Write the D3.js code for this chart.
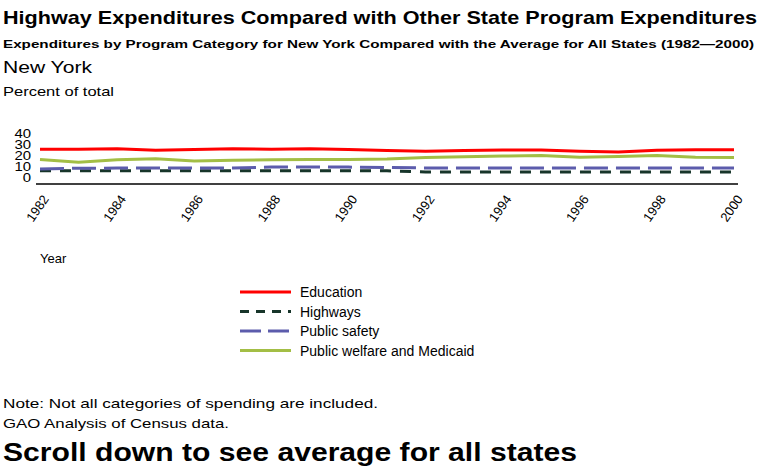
<!DOCTYPE html>
<html>
<head>
<meta charset="utf-8">
<script src="https://cdn.jsdelivr.net/npm/d3@7"></script>
<style>
  body { margin: 0; background: #fff; }
  text { font-family: "Liberation Sans", Arial, sans-serif; fill: #000; }
</style>
</head>
<body>
<div id="chart"></div>
<script>
const years = d3.range(1982, 2001);
const education = [25.3, 25.3, 25.6, 24.4, 25.0, 25.6, 25.2, 25.6, 25.0, 24.2, 23.5, 24.1, 24.6, 24.5, 23.5, 22.8, 24.3, 24.7, 24.7];
const highways = [5.7, 5.7, 5.7, 5.7, 5.7, 5.7, 5.7, 5.7, 5.7, 5.6, 4.6, 4.6, 4.6, 4.6, 4.6, 4.6, 4.6, 4.6, 4.6];
const publicSafety = [7.2, 8.0, 8.1, 8.1, 8.1, 8.2, 9.0, 9.0, 9.0, 8.6, 8.2, 8.2, 8.2, 8.2, 8.2, 8.2, 8.2, 8.2, 8.2];
const welfare = [15.8, 13.5, 15.6, 16.5, 14.6, 15.3, 15.6, 15.9, 15.9, 16.3, 17.8, 18.3, 19.0, 19.5, 18.0, 18.6, 19.5, 18.0, 17.8];
const yTicks = [0, 10, 20, 30, 40];
const xTicks = [1982, 1984, 1986, 1988, 1990, 1992, 1994, 1996, 1998, 2000];

const series = [
  { name: 'Education', values: education, color: '#ff0000', dash: null, legendDash: null },
  { name: 'Highways', values: highways, color: '#17352a', dash: '11,9', legendDash: '9,7' },
  { name: 'Public safety', values: publicSafety, color: '#5c5cac', dash: '24,8', legendDash: '21,7' },
  { name: 'Public welfare and Medicaid', values: welfare, color: '#a3be45', dash: null, legendDash: null }
];

const width = 760, height = 475;

const svg = d3.select('#chart')
  .append('svg')
  .attr('width', width)
  .attr('height', height);

// header texts
function label(txt, x, y, size, weight, len) {
  const t = svg.append('text')
    .attr('x', x)
    .attr('y', y)
    .style('font-size', size + 'px')
    .style('font-weight', weight)
    .text(txt);
  if (len) t.attr('textLength', len).attr('lengthAdjust', 'spacingAndGlyphs');
  return t;
}

label('Highway Expenditures Compared with Other State Program Expenditures', 3, 24, 19, 'bold', 754);
label('Expenditures by Program Category for New York Compared with the Average for All States (1982\u20142000)', 3, 48, 11.5, 'bold', 751);
label('New York', 3, 73, 17, 'normal', 89);
label('Percent of total', 3, 96, 13, 'normal', 111);

const x = d3.scaleLinear().domain([1982, 2000]).range([40, 734]);
const y = d3.scaleLinear().domain([0, 40]).range([177, 133]);

// y axis labels only
const yAxis = svg.append('g')
  .attr('transform', 'translate(31,0)')
  .call(d3.axisLeft(y).tickValues(yTicks).tickSize(0).tickPadding(0));
yAxis.select('.domain').remove();
yAxis.selectAll('text')
  .style('font-size', '13px')
  .style('font-family', '"Liberation Sans", Arial, sans-serif')
  .attr('transform', 'scale(1.15,1)');

// x axis
const xAxis = svg.append('g')
  .attr('transform', 'translate(0,184)')
  .call(d3.axisBottom(x).tickValues(xTicks).tickFormat(d3.format('d')).tickSize(0).tickSizeOuter(0));
xAxis.select('.domain').remove();
xAxis.append('line')
  .attr('x1', x(1982) - 4)
  .attr('x2', x(2000) + 4)
  .attr('stroke', '#000')
  .attr('stroke-width', 1.5);
xAxis.selectAll('.tick text')
  .attr('text-anchor', 'end')
  .attr('y', 0)
  .attr('dy', 0)
  .attr('transform', 'translate(9,15) rotate(-55)')
  .style('font-size', '13px')
  .style('font-family', '"Liberation Sans", Arial, sans-serif');

label('Year', 40, 263, 13, 'normal');

// lines
const line = d3.line()
  .x((d, i) => x(years[i]))
  .y(d => y(d));

svg.selectAll('.series')
  .data(series)
  .enter()
  .append('path')
  .attr('class', 'series')
  .attr('d', d => line(d.values))
  .attr('fill', 'none')
  .attr('stroke', d => d.color)
  .attr('stroke-width', 3)
  .attr('stroke-dasharray', d => d.dash);

// legend
const legend = svg.selectAll('.legend')
  .data(series)
  .enter()
  .append('g')
  .attr('class', 'legend')
  .attr('transform', (d, i) => `translate(240, ${292 + i * 19.5})`);

legend.append('line')
  .attr('x1', 0)
  .attr('x2', 51)
  .attr('stroke', d => d.color)
  .attr('stroke-width', 3)
  .attr('stroke-dasharray', d => d.legendDash);

legend.append('text')
  .attr('x', 60)
  .attr('y', 5)
  .style('font-size', '14px')
  .text(d => d.name);

// footer
label('Note:  Not all categories of spending are included.', 3, 408, 13, 'normal', 375);
label('GAO Analysis of Census data.', 3, 428, 13, 'normal', 226);
label('Scroll down to see average for all states', 3, 461, 25, 'bold', 574);
</script>
</body>
</html>
